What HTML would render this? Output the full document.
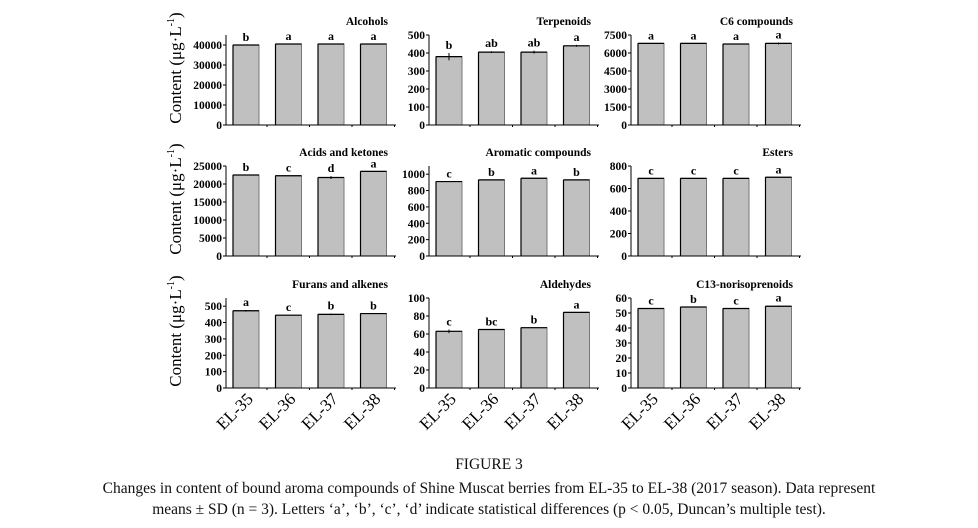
<!DOCTYPE html>
<html><head><meta charset="utf-8">
<style>
body{margin:0;background:#fff;width:978px;height:528px;overflow:hidden;font-family:"Liberation Serif",serif;}
svg text{font-family:"Liberation Serif",serif;}
.cap{position:absolute;left:0;width:978px;text-align:center;font-size:15.5px;color:#111;}
</style></head>
<body>
<svg id="fig" width="978" height="460" style="position:absolute;left:0;top:0"></svg>
<div class="cap" style="top:456px">FIGURE 3</div>
<div class="cap" style="top:478px;line-height:21px">Changes in content of bound aroma compounds of Shine Muscat berries from EL-35 to EL-38 (2017 season). Data represent<br>means ± SD (n = 3). Letters ‘a’, ‘b’, ‘c’, ‘d’ indicate statistical differences (p &lt; 0.05, Duncan’s multiple test).</div>
<script>
const categories=["EL-35","EL-36","EL-37","EL-38"];
const titles=["Alcohols","Terpenoids","C6 compounds","Acids and ketones","Aromatic compounds","Esters","Furans and alkenes","Aldehydes","C13-norisoprenoids"];
const valuesAlcohols=[40000,40500,40500,40500];
const valuesTerpenoids=[380,405,405,440];
const valuesC6=[6800,6800,6750,6800];
const valuesAcids=[22500,22300,21800,23500];
const valuesAromatic=[910,930,950,930];
const valuesEsters=[690,690,690,700];
const valuesFurans=[472,445,450,455];
const valuesAldehydes=[63,65,67,84];
const valuesC13=[53,54,53,54.5];
const errAlcohols=[0,0,0,0],errTerpenoids=[20,5,8,5],errC6=[0,0,0,80],errAcids=[0,0,400,0],errAromatic=[0,0,0,0],errEsters=[0,0,0,0],errFurans=[5,0,5,0],errAldehydes=[2,0,0,0],errC13=[0,0,0,0.5];
const letters=[["b","a","a","a"],["b","ab","ab","a"],["a","a","a","a"],["b","c","d","a"],["c","b","a","b"],["c","c","c","a"],["a","c","b","b"],["c","bc","b","a"],["c","b","c","a"]];
const ticks=[[0,10000,20000,30000,40000],[0,100,200,300,400,500],[0,1500,3000,4500,6000,7500],[0,5000,10000,15000,20000,25000],[0,200,400,600,800,1000],[0,200,400,600,800],[0,100,200,300,400,500],[0,20,40,60,80,100],[0,10,20,30,40,50,60]];
const ymax=[45000,500,7500,25000,1100,800,550,100,60];
const series=[valuesAlcohols,valuesTerpenoids,valuesC6,valuesAcids,valuesAromatic,valuesEsters,valuesFurans,valuesAldehydes,valuesC13];
const errs=[errAlcohols,errTerpenoids,errC6,errAcids,errAromatic,errEsters,errFurans,errAldehydes,errC13];
const svg=document.getElementById('fig');
const NS="http://www.w3.org/2000/svg";
function mk(t,a,txt){const e=document.createElementNS(NS,t);for(const k in a)e.setAttribute(k,a[k]);if(txt!==undefined)e.textContent=txt;svg.appendChild(e);return e;}
const colX=[226,429,631], rowB=[125,256,388], H=90, W=170;
for(let r=0;r<3;r++){
  const yl=mk('text',{x:0,y:0,transform:`translate(181,${rowB[r]-57}) rotate(-90)`,'text-anchor':'middle','font-size':'17'},'');
  
  
  yl.innerHTML='Content (μg·L<tspan dy="-7" font-size="10">-1</tspan><tspan dy="7">)</tspan>';
}
for(let p=0;p<9;p++){
  const r=Math.floor(p/3),c=p%3,x0=colX[c],yb=rowB[r];
  const ys=v=>yb-v/ymax[p]*H;
  const xs=i=>x0+20+i*42.5;
  const t=mk('text',{x:x0+W-8,y:yb-H-10,'text-anchor':'end','font-size':'11.5','font-weight':'bold'},titles[p]);
  
  
  ticks[p].forEach(v=>{
    const y=ys(v);
    mk('line',{x1:x0-3,x2:x0,y1:y,y2:y,stroke:'#000','stroke-width':1});
    const tl=mk('text',{x:x0-4,y:y+4,'text-anchor':'end','font-size':'11.5','font-weight':'bold'},v);
    
    
  });
  series[p].forEach((v,i)=>{
    const xc=xs(i);
    const b=mk('rect',{x:xc-13,y:ys(v),width:26,height:yb-ys(v),fill:'#c0c0c0',stroke:'#777','stroke-width':1});
    
    
    mk('line',{x1:xc-13,x2:xc+13,y1:ys(v),y2:ys(v),stroke:'#000','stroke-width':1.2});
    mk('line',{x1:xc-13,x2:xc-13,y1:ys(v),y2:yb,stroke:'#000','stroke-width':1.2});
    const e=errs[p][i];
    if(e>0){mk('line',{x1:xc,x2:xc,y1:ys(v+e),y2:ys(v-e),stroke:'#000','stroke-width':1});}
    const l=mk('text',{x:xc,y:ys(v+e)-4,'text-anchor':'middle','font-size':'12','font-weight':'bold'},letters[p][i]);
    
    
    mk('line',{x1:xc+21,x2:xc+21,y1:yb,y2:yb+2,stroke:'#000','stroke-width':1});
    if(r===2){
      const xl=mk('text',{x:0,y:0,transform:`translate(${xc+8},${yb+12}) rotate(-45)`,'text-anchor':'end','font-size':'17'},categories[i]);
      
      
    }
  });
  mk('line',{x1:x0,x2:x0,y1:yb-H,y2:yb,stroke:'#000','stroke-width':1});
  mk('line',{x1:x0,x2:x0+W,y1:yb,y2:yb,stroke:'#000','stroke-width':1});
}
</script>
</body></html>
